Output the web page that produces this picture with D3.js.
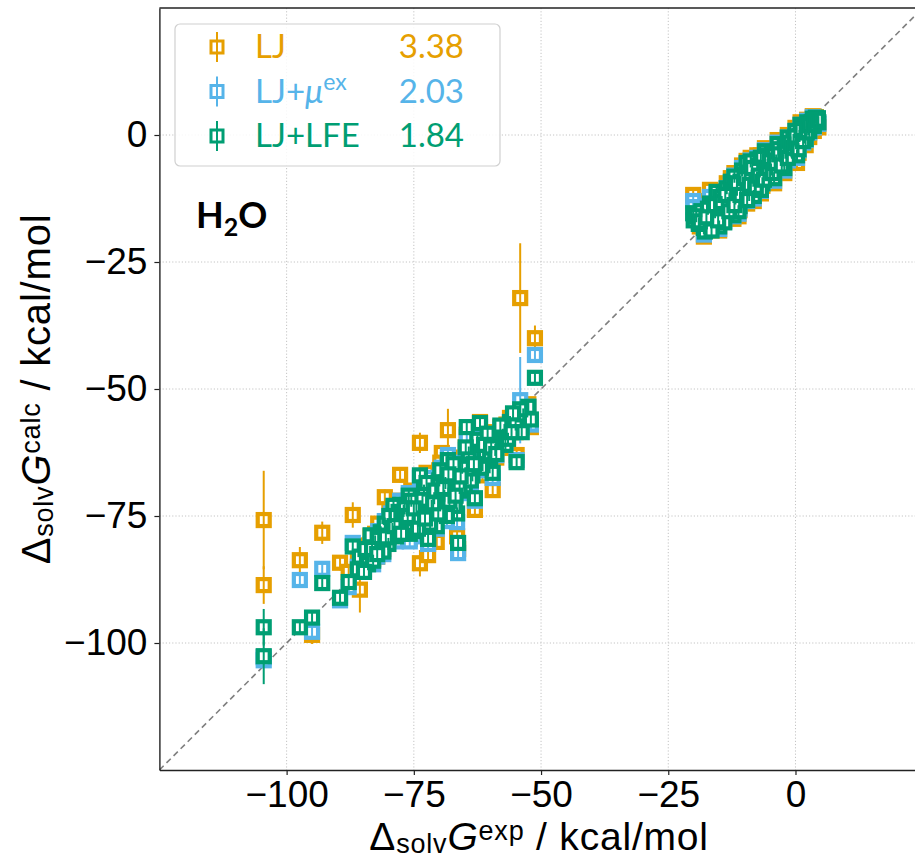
<!DOCTYPE html>
<html>
<head>
<meta charset="utf-8">
<script src="https://cdn.jsdelivr.net/npm/d3@7"></script>
<style>
  body { margin: 0; background: #fff; }
</style>
</head>
<body>
<svg id="chart" width="915" height="858"></svg>
<script>
// experimental solvation free energies (kcal/mol)
const expG = [
  -104.5, -104.5, -97.4, -95.0, -93.0, -89.5, -87.0, -85.6, -87.8, -84.0,
  -82.6, -81.5, -80.7, -79.5, -78.5, -77.7, -77.0, -76.0, -75.2, -74.5,
  -73.8, -73.8, -73.0, -72.2, -71.5, -70.5, -70.0, -69.5, -69.0, -68.3,
  -67.5, -66.5, -66.3, -65.5, -65.0, -64.6, -63.5, -63.0, -62.0, -61.0,
  -60.0, -59.5, -58.5, -57.5, -56.8, -56.1, -55.0, -54.8, -53.5, -52.5,
  -52.0, -51.2, -54.1, -83.0, -79.0, -75.8, -71.0, -67.0, -68.5, -61.5,
  -20.1, -20.0, -18.0, -17.8, -16.8, -16.2, -15.5, -15.0, -14.2, -13.5,
  -12.7, -12.2, -11.8, -11.0, -10.5, -10.0, -9.6, -9.1, -8.6, -8.0,
  -7.5, -7.0, -6.5, -6.0, -5.5, -5.0, -4.5, -4.0, -3.5, -3.0,
  -2.5, -2.0, -1.5, -1.0, -0.7, 0.0, 0.0, 0.5, 1.0, 1.3,
  1.8, 2.3, 2.7, 3.0, 3.4, 3.8, 4.4, -2.8, -8.3, -13.0,
  -5.8, -11.5,
  -84.5, -83.5, -82.0, -80.0, -79.2, -78.0, -76.5, -75.5, -74.0, -73.3,
  -72.5, -71.8, -70.8, -70.2, -69.8, -68.8, -68.0, -67.2, -66.0, -64.2,
  -63.8, -62.5, -61.8, -60.5, -59.0, -58.0, -57.0, -55.5, -53.8, -76.8,
  -81.0,
  -19.0, -18.5, -17.2, -16.5, -15.8, -14.8, -14.0, -13.2, -12.5, -12.0,
  -11.2, -10.8, -10.2, -9.8, -9.3, -8.8, -8.2, -7.8, -7.2, -6.8,
  -6.3, -5.2, -4.8, -4.2, -3.8, -3.3, -2.2, -1.8, -1.2, -0.4,
  0.3, 0.8, 1.6, 2.0, 2.5, 3.2, 3.6, 4.0, 4.5,
  -19.5, -18.8, -17.5, -16.0, -15.2, -14.5, -13.8, -13.0, -12.0, -11.5,
  -10.8, -10.0, -9.5, -9.0, -8.5, -7.8, -7.2, -6.8, -6.2, -5.6,
  -5.0, -4.5, -4.0, -3.2, -2.7, -2.0, -1.5, -1.0, -0.5, 0.0,
  0.6, 1.2, 1.5, 2.2, 2.8, 3.5, 4.2,
  -86.0, -84.8, -83.2, -82.2, -80.5, -79.8, -78.8, -77.5, -76.2, -75.0,
  -74.2, -72.8, -71.2, -69.2, -68.2, -66.8, -65.8, -64.8, -63.2, -61.2,
  -59.8, -58.8, -56.5, -55.8
];

// calculated values, LJ only
const ljG = [
  -75.8, -88.6, -83.7, -98.4, -78.3, -84.2, -74.8, -89.5, -86.0, -80.8,
  -78.5, -81.0, -71.3, -76.5, -79.5, -66.9, -74.0, -72.5, -77.0, -70.5,
  -60.6, -84.3, -68.0, -82.7, -72.0, -80.1, -66.0, -62.6, -71.5, -58.1,
  -67.0, -79.0, -81.5, -63.5, -70.0, -59.0, -66.0, -73.8, -56.5, -62.0,
  -65.0, -69.9, -60.0, -61.6, -57.0, -55.7, -58.5, -63.0, -55.0, -53.0,
  -57.5, -40.0, -32.1, -83.5, -73.5, -79.5, -69.0, -72.5, -75.5, -67.0,
  -11.8, -13.5, -20.0, -17.0, -10.8, -15.5, -12.5, -18.8, -14.5, -9.5,
  -8.5, -16.5, -12.5, -14.8, -6.0, -10.0, -5.1, -12.5, -8.0, -11.2,
  -4.0, -7.0, -10.0, -2.6, -5.5, -8.5, -3.5, -7.3, -1.0, -4.5,
  -6.0, -2.0, 0.0, -3.5, -4.7, 1.4, -1.5, -2.5, 2.5, 0.5,
  -1.0, 3.0, -0.4, 1.5, 3.7, 2.0, 3.1, -2.5, -9.8, -12.0,
  -7.0, -10.5,
  -82.0, -79.0, -76.5, -78.0, -75.5, -72.0, -76.0, -70.0, -75.0, -71.5,
  -66.5, -76.5, -70.0, -73.5, -64.5, -67.5, -71.0, -64.0, -68.0, -62.0,
  -68.5, -60.5, -64.0, -58.5, -62.5, -57.5, -60.5, -55.0, -57.0, -73.0,
  -81.5,
  -16.5, -13.5, -13.0, -18.0, -14.5, -11.5, -16.5, -13.5, -11.0, -7.5,
  -16.0, -9.0, -12.0, -7.5, -10.0, -4.5, -13.0, -8.5, -5.5, -11.5,
  -7.5, -3.5, -6.5, -9.5, -4.5, -2.0, -7.5, -4.5, -1.5, -0.5,
  -5.5, 0.0, 1.8, -2.0, 1.0, 2.8, 0.8, 3.5, 1.5,
  -14.0, -18.0, -15.5, -13.0, -16.5, -13.0, -11.0, -15.0, -13.5, -9.0,
  -11.5, -7.5, -13.5, -9.5, -6.0, -10.5, -7.5, -4.0, -9.0, -6.5,
  -4.5, -8.0, -5.5, -3.0, -6.5, -3.5, -5.5, -1.0, -2.5, -0.5,
  -3.5, 1.5, -1.8, 0.5, 2.0, 2.5, 2.5,
  -84.0, -85.5, -81.0, -83.0, -79.5, -74.0, -77.0, -78.0, -74.0, -72.5,
  -77.5, -74.5, -71.0, -68.0, -66.0, -70.5, -66.5, -61.5, -64.5, -60.0,
  -60.5, -63.5, -60.0, -57.5
];

// calculated values, LJ + mu_ex
const muG = [
  -102.8, -103.4, -87.6, -97.8, -85.4, -91.6, -80.3, -86.0, -89.0, -83.0,
  -79.5, -78.0, -76.0, -74.5, -80.0, -72.0, -75.5, -70.5, -77.5, -72.5,
  -67.5, -79.0, -69.5, -80.5, -74.0, -77.5, -67.5, -65.5, -72.0, -63.0,
  -68.5, -76.2, -82.3, -64.5, -70.5, -59.5, -66.5, -72.0, -57.5, -63.0,
  -64.0, -67.5, -61.0, -59.5, -58.5, -56.5, -58.0, -64.0, -55.5, -53.5,
  -57.0, -43.3, -52.2, -84.5, -74.0, -80.0, -70.5, -73.5, -76.0, -66.0,
  -13.0, -14.2, -19.6, -18.5, -12.2, -16.5, -11.5, -18.5, -15.0, -10.5,
  -9.5, -16.0, -13.0, -14.5, -6.5, -10.5, -5.8, -12.0, -8.5, -11.0,
  -4.5, -7.5, -9.5, -3.0, -6.0, -8.0, -3.8, -6.5, -1.5, -4.5,
  -5.5, -2.5, -0.5, -3.5, -4.0, 0.8, -1.5, -2.0, 2.0, 0.0,
  -0.5, 2.8, 0.5, 1.5, 3.5, 2.5, 3.2, -3.0, -9.5, -12.0,
  -6.8, -11.0,
  -83.5, -80.5, -78.0, -79.0, -76.5, -73.5, -76.5, -71.5, -76.0, -72.0,
  -67.5, -77.0, -71.0, -74.0, -66.0, -68.0, -71.5, -65.0, -68.5, -62.5,
  -68.5, -60.5, -65.0, -59.0, -63.0, -58.0, -60.5, -55.5, -57.5, -74.0,
  -82.5,
  -17.0, -14.5, -14.0, -18.5, -15.0, -12.0, -17.0, -14.0, -11.5, -8.0,
  -15.5, -9.5, -12.5, -8.0, -10.5, -5.0, -12.5, -9.0, -6.0, -11.0,
  -8.0, -4.0, -7.0, -9.0, -5.0, -2.5, -7.0, -4.5, -2.0, -1.0,
  -4.5, -0.5, 1.5, -1.0, 1.0, 2.5, 1.5, 3.3, 2.2,
  -15.5, -17.5, -16.0, -13.5, -16.5, -13.5, -11.5, -15.0, -13.5, -9.5,
  -11.5, -8.0, -13.0, -10.0, -6.5, -10.5, -8.0, -4.5, -9.0, -6.5,
  -5.0, -7.5, -5.5, -3.5, -6.0, -3.5, -5.0, -1.5, -2.5, -0.5,
  -3.0, 1.0, -1.5, 0.5, 2.0, 2.8, 2.8,
  -85.0, -86.0, -81.5, -83.0, -80.0, -75.0, -77.5, -78.5, -74.5, -73.0,
  -78.0, -75.0, -72.0, -69.0, -66.5, -70.5, -67.0, -62.0, -64.5, -60.5,
  -60.5, -63.0, -59.5, -58.0
];

// calculated values, LJ + LFE
const lfeG = [
  -96.9, -102.6, -96.9, -95.0, -88.2, -91.1, -81.0, -83.0, -88.0, -84.5,
  -80.0, -78.2, -76.5, -75.2, -79.0, -72.8, -74.0, -71.0, -76.5, -73.5,
  -67.0, -78.0, -70.0, -79.5, -73.0, -77.0, -68.0, -66.5, -71.0, -64.0,
  -69.0, -74.5, -80.3, -65.5, -70.0, -57.5, -67.0, -71.5, -56.7, -62.5,
  -63.5, -66.5, -60.5, -59.0, -58.0, -56.5, -57.0, -64.4, -55.0, -53.5,
  -56.0, -47.8, -54.0, -83.8, -73.0, -78.5, -71.5, -73.0, -75.0, -65.0,
  -15.4, -16.8, -18.3, -19.0, -13.5, -16.0, -11.2, -18.0, -14.2, -10.5,
  -9.2, -15.8, -12.5, -14.0, -7.0, -10.0, -5.5, -11.8, -8.0, -10.5,
  -4.8, -7.2, -9.5, -3.2, -5.8, -7.5, -3.8, -6.2, -1.8, -4.2,
  -5.0, -2.5, -0.5, -3.0, -3.5, 0.8, -1.2, -1.8, 2.0, 0.2,
  -0.5, 2.5, 0.8, 1.8, 3.2, 2.8, 3.3, -3.0, -9.0, -12.5,
  -6.5, -10.8,
  -81.5, -78.8, -79.5, -80.5, -77.5, -74.2, -77.8, -72.0, -75.5, -71.8,
  -68.5, -76.5, -70.0, -74.5, -66.0, -68.5, -72.0, -64.8, -69.5, -62.5,
  -68.0, -60.0, -65.5, -58.8, -62.0, -57.2, -61.0, -54.8, -58.5, -73.5,
  -82.0,
  -17.5, -15.0, -14.5, -18.8, -15.2, -12.2, -17.2, -13.8, -11.2, -8.2,
  -15.0, -9.2, -12.8, -7.8, -10.2, -5.2, -12.0, -8.8, -6.0, -10.8,
  -7.8, -4.0, -6.8, -8.5, -5.0, -2.8, -6.5, -4.2, -2.0, -1.0,
  -4.0, -0.2, 1.5, -0.8, 1.2, 2.5, 1.8, 3.4, 2.5,
  -16.0, -17.0, -16.2, -13.8, -16.8, -13.2, -11.8, -15.0, -13.8, -9.5,
  -11.8, -8.5, -12.8, -9.8, -6.5, -10.2, -8.0, -4.5, -8.8, -6.5,
  -5.2, -7.5, -5.5, -3.8, -6.0, -3.5, -4.5, -1.5, -2.5, -0.3,
  -2.8, 1.0, -1.2, 0.5, 2.0, 2.8, 3.0,
  -85.5, -86.0, -81.5, -82.5, -79.2, -75.0, -77.0, -78.5, -75.0, -73.5,
  -77.5, -75.5, -72.5, -69.5, -66.8, -71.0, -67.2, -61.5, -64.8, -61.0,
  -61.5, -62.8, -59.8, -58.5
];

// error bar half-widths for the first 60 (ion) entries
const ljErrIons = [
  9.7, 3.7, 2.6, 1.8, 2.2, 1.5, 2.5, 4.5, 0.4, 0.4,
  0.4, 0.4, 1.5, 0.4, 0.4, 1.5, 0.4, 0.4, 0.4, 0.4,
  2.0, 2.6, 0.4, 1.2, 0.4, 0.4, 0.4, 1.5, 0.4, 4.2,
  0.4, 0.4, 0.4, 0.4, 0.4, 0.4, 0.4, 1.5, 0.4, 0.4,
  0.4, 0.4, 0.4, 0.4, 0.4, 0.4, 0.4, 0.4, 0.4, 0.4,
  0.4, 2.5, 10.8, 0.4, 0.4, 0.4, 0.4, 0.4, 0.4, 0.4
];
const muErrIons = [
  0.6, 0.8, 0.5, 0.5, 0.5, 0.5, 0.5, 0.5, 0.4, 0.4,
  0.4, 0.4, 0.4, 0.4, 0.4, 0.4, 0.4, 0.4, 0.4, 0.4,
  0.4, 0.4, 0.4, 0.4, 0.4, 0.4, 0.4, 0.4, 0.4, 0.4,
  0.4, 0.4, 0.4, 0.4, 0.4, 0.4, 0.4, 0.4, 0.4, 0.4,
  0.4, 0.4, 0.4, 0.4, 0.4, 0.4, 0.4, 0.4, 0.4, 0.4,
  0.4, 1.5, 8.5, 0.4, 0.4, 0.4, 0.4, 0.4, 0.4, 0.4
];
const lfeErrIons = [
  3.6, 5.5, 0.5, 0.5, 0.5, 0.5, 0.5, 0.5, 0.4, 0.4,
  0.4, 0.4, 0.4, 0.4, 0.4, 0.4, 0.4, 0.4, 0.4, 0.4,
  0.4, 0.4, 0.4, 0.4, 0.4, 0.4, 0.4, 0.4, 0.4, 0.4,
  0.4, 0.4, 0.4, 0.4, 0.4, 0.4, 0.4, 0.4, 0.4, 0.4,
  0.4, 0.4, 0.4, 0.4, 0.4, 0.4, 0.4, 0.4, 0.4, 0.4,
  0.4, 0.8, 0.8, 0.4, 0.4, 0.4, 0.4, 0.4, 0.4, 0.4
];
// remaining points have sub-marker uncertainties
const smallErr = 0.4;

const seriesNames = ["LJ", "LJ+μex", "LJ+LFE"];
const rmseLabels = ["3.38", "2.03", "1.84"];
const seriesColors = ["#E69F00", "#56B4E9", "#009E73"];
const tickValues = [-100, -75, -50, -25, 0];

const series = [
  { calc: ljG, err: ljErrIons },
  { calc: muG, err: muErrIons },
  { calc: lfeG, err: lfeErrIons },
].map((s, i) => ({
  name: seriesNames[i],
  color: seriesColors[i],
  rmse: rmseLabels[i],
  points: expG.map((e, j) => ({
    x: e,
    y: s.calc[j],
    err: j < s.err.length ? s.err[j] : smallErr,
  })),
}));

const margin = { top: 8, left: 159.4 };
const width = 763.3;
const height = 762;

const svg = d3.select("#chart");

const xScale = d3.scaleLinear().domain([-125, 25]).range([margin.left, margin.left + width]);
const yScale = d3.scaleLinear().domain([-125, 25]).range([margin.top + height, margin.top]);

svg.append("defs")
  .append("clipPath")
  .attr("id", "plot-clip")
  .append("rect")
  .attr("x", margin.left)
  .attr("y", margin.top)
  .attr("width", width)
  .attr("height", height);

// dotted grid
const grid = svg.append("g").attr("class", "grid");
grid.selectAll(".vgrid")
  .data(tickValues)
  .enter()
  .append("line")
  .attr("x1", (d) => xScale(d))
  .attr("x2", (d) => xScale(d))
  .attr("y1", margin.top)
  .attr("y2", margin.top + height)
  .attr("stroke", "#c4c4c4")
  .attr("stroke-width", 1)
  .attr("stroke-dasharray", "1.2,2");
grid.selectAll(".hgrid")
  .data(tickValues)
  .enter()
  .append("line")
  .attr("y1", (d) => yScale(d))
  .attr("y2", (d) => yScale(d))
  .attr("x1", margin.left)
  .attr("x2", margin.left + width)
  .attr("stroke", "#c4c4c4")
  .attr("stroke-width", 1)
  .attr("stroke-dasharray", "1.2,2");

const plot = svg.append("g").attr("clip-path", "url(#plot-clip)");

// y = x reference line
plot.append("line")
  .attr("x1", xScale(-125))
  .attr("y1", yScale(-125))
  .attr("x2", xScale(25))
  .attr("y2", yScale(25))
  .attr("stroke", "#808080")
  .attr("stroke-width", 1.6)
  .attr("stroke-dasharray", "6,4");

// markers + error bars, one layer per series
const half = 6;
series.forEach((s) => {
  const g = plot.append("g").attr("class", "series");
  g.selectAll("rect")
    .data(s.points)
    .enter()
    .append("rect")
    .attr("x", (d) => xScale(d.x) - half)
    .attr("y", (d) => yScale(d.y) - half)
    .attr("width", half * 2)
    .attr("height", half * 2)
    .attr("fill", "#fff")
    .attr("stroke", s.color)
    .attr("stroke-width", 4.2);
  g.selectAll("line")
    .data(s.points)
    .enter()
    .append("line")
    .attr("x1", (d) => xScale(d.x))
    .attr("x2", (d) => xScale(d.x))
    .attr("y1", (d) => Math.min(yScale(d.y + d.err), yScale(d.y) - half))
    .attr("y2", (d) => Math.max(yScale(d.y - d.err), yScale(d.y) + half))
    .attr("stroke", s.color)
    .attr("stroke-width", 2);
});

// axes
const axisFont = "'Liberation Sans', Arial, sans-serif";
const xAxis = svg.append("g")
  .attr("transform", `translate(0, ${margin.top + height})`)
  .call(d3.axisBottom(xScale).tickValues(tickValues).tickSize(5).tickSizeOuter(0).tickPadding(6));
const yAxis = svg.append("g")
  .attr("transform", `translate(${margin.left}, 0)`)
  .call(d3.axisLeft(yScale).tickValues(tickValues).tickSize(5).tickSizeOuter(0).tickPadding(7));
[xAxis, yAxis].forEach((a) => {
  a.select(".domain").attr("stroke", "#222").attr("stroke-width", 1.4);
  a.selectAll(".tick line").attr("stroke", "#222").attr("stroke-width", 1.2);
  a.selectAll(".tick text")
    .attr("font-family", axisFont)
    .attr("font-size", 37)
    .attr("fill", "#000");
});

// top spine
svg.append("line")
  .attr("x1", margin.left)
  .attr("x2", margin.left + width)
  .attr("y1", margin.top)
  .attr("y2", margin.top)
  .attr("stroke", "#222")
  .attr("stroke-width", 1.4);

// axis labels with sub/superscripts
function addLabel(text, sup) {
  text.append("tspan").text("Δ");
  text.append("tspan").attr("font-size", 27).attr("dy", 2.5).text("solv");
  text.append("tspan").attr("font-style", "italic").attr("dy", -2.5).text("G");
  text.append("tspan").attr("font-size", 27).attr("dy", -10).text(sup);
  text.append("tspan").attr("dy", 10).text(" / kcal/mol");
}
const xLabel = svg.append("text")
  .attr("x", margin.left + width / 2 - 2)
  .attr("y", 850)
  .attr("text-anchor", "middle")
  .attr("font-family", axisFont)
  .attr("font-size", 39)
  .attr("letter-spacing", 0.8);
addLabel(xLabel, "exp");

const yLabel = svg.append("text")
  .attr("transform", `translate(50, ${margin.top + height / 2}) rotate(-90)`)
  .attr("text-anchor", "middle")
  .attr("font-family", axisFont)
  .attr("font-size", 40)
  .attr("letter-spacing", 0.8);
addLabel(yLabel, "calc");

// legend
const legendFont = "Lato, 'Open Sans', sans-serif";
const legend = svg.append("g");
legend.append("rect")
  .attr("x", 175)
  .attr("y", 24)
  .attr("width", 325)
  .attr("height", 142)
  .attr("rx", 5)
  .attr("fill", "#fff")
  .attr("fill-opacity", 0.85)
  .attr("stroke", "#d0d0d0")
  .attr("stroke-width", 1.2);

const rows = legend.selectAll(".row")
  .data(series)
  .enter()
  .append("g")
  .attr("transform", (d, i) => `translate(0, ${47 + i * 44.5})`);
rows.append("line")
  .attr("x1", 217).attr("x2", 217)
  .attr("y1", -15).attr("y2", 15)
  .attr("stroke", (d) => d.color)
  .attr("stroke-width", 2);
rows.append("rect")
  .attr("x", 217 - 6).attr("y", -6)
  .attr("width", 12).attr("height", 12)
  .attr("fill", "#fff")
  .attr("stroke", (d) => d.color)
  .attr("stroke-width", 3);
rows.append("line")
  .attr("x1", 217).attr("x2", 217)
  .attr("y1", -6).attr("y2", 6)
  .attr("stroke", (d) => d.color)
  .attr("stroke-width", 2);

rows.each(function (d) {
  const t = d3.select(this)
    .append("text")
    .attr("x", 255)
    .attr("y", 11)
    .attr("font-family", legendFont)
    .attr("font-size", 33)
    .attr("fill", d.color);
  if (d.name === "LJ+μex") {
    t.append("tspan").text("LJ+");
    t.append("tspan").attr("font-style", "italic").text("μ");
    t.append("tspan").attr("font-size", 23).attr("dy", -13).text("ex");
  } else {
    t.text(d.name);
  }
});
rows.append("text")
  .attr("x", 464)
  .attr("y", 11)
  .attr("text-anchor", "end")
  .attr("font-family", legendFont)
  .attr("font-size", 33)
  .attr("fill", (d) => d.color)
  .text((d) => d.rmse);

// solvent label
const solvent = svg.append("text")
  .attr("x", 196)
  .attr("y", 228)
  .attr("font-family", legendFont)
  .attr("font-weight", "bold")
  .attr("font-size", 36)
  .attr("fill", "#000");
solvent.append("tspan").text("H");
solvent.append("tspan").attr("font-size", 25).attr("dy", 8).text("2");
solvent.append("tspan").attr("dy", -8).text("O");
</script>
</body>
</html>
